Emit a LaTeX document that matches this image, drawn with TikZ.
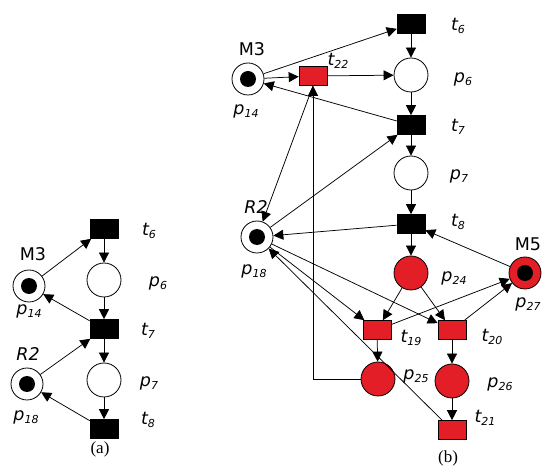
\documentclass[tikz,border=0pt]{standalone}
\usepackage{fontspec}
\setmainfont{Liberation Serif}
\newfontfamily\lblfont{DejaVu Sans}
\usetikzlibrary{arrows.meta}
\definecolor{pnred}{RGB}{228,30,38}

\newcommand{\pn}[2]{{\itshape #1\raisebox{-0.35ex}{\fontsize{11}{12}\selectfont #2}}}

\tikzset{
  place/.style={circle, draw, line width=0.8pt, minimum size=34pt, inner sep=0pt},
  rplace/.style={place, fill=pnred},
  mplace/.style={place, minimum size=32pt,
    path picture={\fill[black] (path picture bounding box.center) circle (8pt);}},
  trans/.style={rectangle, draw, fill=black, line width=0.6pt,
    minimum width=28pt, minimum height=19pt, inner sep=0pt},
  rtrans/.style={trans, fill=pnred},
  arc/.style={-{Triangle[length=10pt,width=10pt]}, line width=0.75pt},
  txt/.style={font=\lblfont\fontsize{17.5}{20}\selectfont, inner sep=0pt},
  captext/.style={font=\fontsize{17}{19}\selectfont, inner sep=0pt}
}

\begin{document}
\begin{tikzpicture}[x=1pt, y=-1pt]
  \useasboundingbox (0,0) rectangle (550,473);

  % (a)
  \node[trans] (at6) at (104,229) {};
  \node[place] (ap6) at (104,280) {};
  \node[trans] (at7) at (104,329) {};
  \node[place] (ap7) at (104,380) {};
  \node[trans] (at8) at (104,429) {};
  \node[mplace] (ap14) at (29,286) {};
  \node[mplace] (ap18) at (27,384) {};

  \node[txt] (la-m3) at (33,254) {M3};
  \node[txt] (la-p14) at (29,311) {\pn{p}{14}};
  \node[txt] (la-r2) at (28,354) {\itshape R2};
  \node[txt] (la-p18) at (26,417) {\pn{p}{18}};
  \node[txt] (la-t6) at (149,231) {\pn{t}{6}};
  \node[txt] (la-p6) at (158,283) {\pn{p}{6}};
  \node[txt] (la-t7) at (148,331) {\pn{t}{7}};
  \node[txt] (la-p7) at (149,383) {\pn{p}{7}};
  \node[txt] (la-t8) at (148,420) {\pn{t}{8}};
  \node[captext] (capa) at (100,449) {(a)};

  \draw[arc] (at6) -- (ap6);
  \draw[arc] (ap6) -- (at7);
  \draw[arc] (at7) -- (ap7);
  \draw[arc] (ap7) -- (at8);
  \draw[arc] (ap14) -- (at6);
  \draw[arc] (at7) -- (ap14);
  \draw[arc] (ap18) -- (at7);
  \draw[arc] (at8) -- (ap18);

  % (b)
  \node[trans] (bt6) at (411,24) {};
  \node[rtrans] (bt22) at (313,76) {};
  \node[mplace] (bp14) at (248,79) {};
  \node[place] (bp6) at (411,75) {};
  \node[trans] (bt7) at (411,125) {};
  \node[place] (bp7) at (411,173) {};
  \node[trans] (bt8) at (411,224) {};
  \node[mplace] (bp18) at (257,237) {};
  \node[rplace] (bp24) at (411,273) {};
  \node[mplace, fill=pnred] (bp27) at (525,273) {};
  \node[rtrans] (bt19) at (377,330) {};
  \node[rtrans] (bt20) at (452,330) {};
  \node[rplace] (bp25) at (378,379) {};
  \node[rplace] (bp26) at (452,381) {};
  \node[rtrans] (bt21) at (452,430) {};

  \node[txt] (lb-m3) at (252,49) {M3};
  \node[txt] (lb-t22) at (338,61) {\pn{t}{22}};
  \node[txt] (lb-p14) at (246,111) {\pn{p}{14}};
  \node[txt] (lb-t6) at (458,26) {\pn{t}{6}};
  \node[txt] (lb-p6) at (463,79) {\pn{p}{6}};
  \node[txt] (lb-t7) at (458,127) {\pn{t}{7}};
  \node[txt] (lb-p7) at (459,176) {\pn{p}{7}};
  \node[txt] (lb-t8) at (458,222) {\pn{t}{8}};
  \node[txt] (lb-r2) at (256,207) {\itshape R2};
  \node[txt] (lb-p18) at (254,271) {\pn{p}{18}};
  \node[txt] (lb-p24) at (454,278) {\pn{p}{24}};
  \node[txt] (lb-m5) at (528,244) {M5};
  \node[txt] (lb-p27) at (528,304) {\pn{p}{27}};
  \node[txt] (lb-t19) at (411,338) {\pn{t}{19}};
  \node[txt] (lb-t20) at (492,337) {\pn{t}{20}};
  \node[txt] (lb-p25) at (416,376) {\pn{p}{25}};
  \node[txt] (lb-p26) at (500,384) {\pn{p}{26}};
  \node[txt] (lb-t21) at (485,418) {\pn{t}{21}};
  \node[captext] (capb) at (448,458) {(b)};

  \draw[arc] (bt6) -- (bp6);
  \draw[arc] (bp6) -- (bt7);
  \draw[arc] (bt7) -- (bp7);
  \draw[arc] (bp7) -- (bt8);
  \draw[arc] (bt8) -- (bp24);
  \draw[arc] (bp14) -- (bt6);
  \draw[arc] (bp14) -- (bt22);
  \draw[arc] (bt22) -- (bp6);
  \draw[arc] (bt7) -- (bp14);
  \draw[arc] (bp18) -- (bt7);
  \draw[arc] (bt22.south) -- (bp18);
  \draw[arc] (bp25.west) -| (bt22.south);
  \draw[arc] (bt8) -- (bp18);
  \draw[arc] (bp27) -- (bt8);
  \draw[arc] (bp24) -- (bt19);
  \draw[arc] (bp24) -- (bt20);
  \draw[arc] (bt19) -- (bp27);
  \draw[arc] (bt20) -- (bp27);
  \draw[arc] (bp18) -- (bt19);
  \draw[arc] (bp18) -- (bt20);
  \draw[arc] (bt19) -- (bp25);
  \draw[arc] (bt20) -- (bp26);
  \draw[arc] (bp26) -- (bt21);
  \draw[arc] (bt21) -- (bp18);
\end{tikzpicture}
\end{document}
